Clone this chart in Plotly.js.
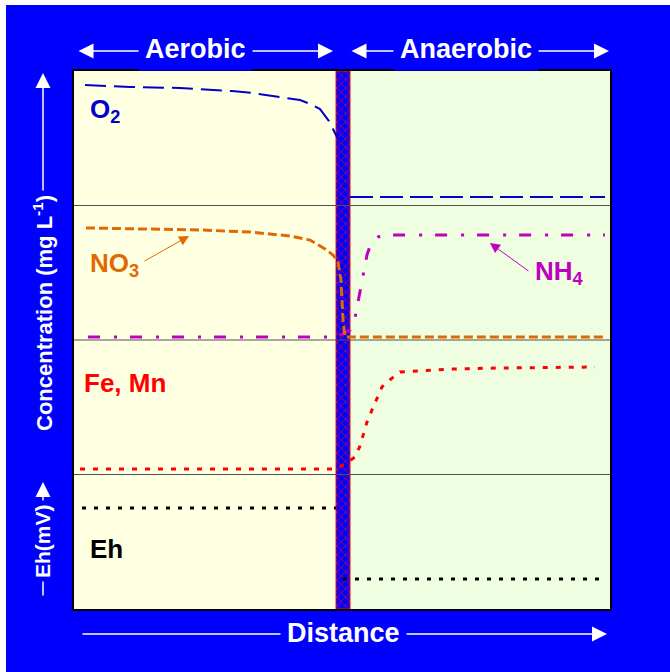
<!DOCTYPE html>
<html>
<head>
<meta charset="utf-8">
<script src="https://cdn.plot.ly/plotly-3.0.1.min.js"></script>
<style>html,body{margin:0;padding:0;background:#fff;}#chart{width:670px;height:672px;}</style>
</head>
<body>
<div id="chart"></div>
<script>
// ---- Data (distance 0-100, concentration bands 0-4) ----
const distO2Aer = [2.05, 10.45, 19.78, 29.48, 33.40, 38.81, 42.16, 44.03, 45.90, 47.57, 48.69, 49.25];
const o2Aer     = [3.896, 3.881, 3.874, 3.851, 3.836, 3.807, 3.784, 3.755, 3.717, 3.628, 3.539, 3.494];
const distO2Ana = [51.49, 99.07];
const o2Ana     = [3.063, 3.063];

const distNO3 = [2.24, 14.18, 23.51, 32.84, 40.30, 44.03, 46.83, 48.32, 49.25, 49.81, 50.0, 50.19, 50.56, 99.07];
const no3     = [2.833, 2.825, 2.818, 2.803, 2.773, 2.743, 2.677, 2.632, 2.580, 2.446, 2.297, 2.149, 2.022, 2.022];

const distNH4 = [2.61, 48.88, 49.63, 51.49, 52.43, 53.17, 53.92, 54.66, 55.41, 56.72, 58.77, 99.07];
const nh4     = [2.022, 2.022, 2.037, 2.074, 2.164, 2.320, 2.468, 2.632, 2.721, 2.766, 2.781, 2.781];

const distFe = [1.12, 48.88, 50.56, 52.43, 53.36, 54.10, 54.66, 55.60, 56.53, 57.46, 59.33, 60.82, 70.15, 79.48, 97.2];
const feMn   = [1.041, 1.041, 1.078, 1.130, 1.212, 1.309, 1.390, 1.480, 1.569, 1.651, 1.717, 1.762, 1.784, 1.792, 1.799];

const distEh = [1.49, 48.88, null, 50.19, 98.13];
const eh     = [0.751, 0.751, null, 0.223, 0.223];

const barrierX = [50.19];
const barrierTop = [4];
const barrierWidth = [2.61];

const bandBounds = [1, 2, 3];

const FONT = 'Liberation Sans, Arial, sans-serif';

const traces = [
  {type:'bar', x:barrierX, y:barrierTop, base:[0], width:barrierWidth,
   marker:{color:'#0000ff', line:{color:'#ff0000', width:1},
     pattern:{shape:'x', fgcolor:'#ff1010', bgcolor:'#0000ff', fillmode:'replace', size:6, solidity:0.18}},
   hoverinfo:'skip', showlegend:false},
  {type:'scatter', mode:'lines', x:distO2Aer, y:o2Aer, line:{color:'#0000cc', width:2, dash:'21px,8px'}, hoverinfo:'skip'},
  {type:'scatter', mode:'lines', x:distO2Ana, y:o2Ana, line:{color:'#0000cc', width:2, dash:'23px,7px'}, hoverinfo:'skip'},
  {type:'scatter', mode:'lines', x:distNH4, y:nh4, line:{color:'#c000c0', width:3, dash:'12px,14px,3px,13px'}, hoverinfo:'skip'},
  {type:'scatter', mode:'lines', x:distNO3, y:no3, line:{color:'#e06a00', width:3, dash:'9px,4px'}, hoverinfo:'skip'},
  {type:'scatter', mode:'lines', x:distFe, y:feMn, line:{color:'#ff0000', width:3, dash:'5px,8px'}, hoverinfo:'skip'},
  {type:'scatter', mode:'lines', x:distEh, y:eh, line:{color:'#000000', width:3, dash:'4px,8px'}, hoverinfo:'skip', connectgaps:false}
];

const shapes = [
  {type:'rect', xref:'x', yref:'y', x0:0, x1:50, y0:0, y1:4, fillcolor:'#ffffe2', line:{width:0}, layer:'below'},
  {type:'rect', xref:'x', yref:'y', x0:50, x1:100, y0:0, y1:4, fillcolor:'#effee0', line:{width:0}, layer:'below'},
  {type:'rect', xref:'paper', yref:'paper', x0:-0.14, x1:-0.1269, y0:-0.12, y1:1.14, fillcolor:'#ffffff', line:{width:0}, layer:'below'},
  {type:'rect', xref:'paper', yref:'paper', x0:-0.14, x1:1.12, y0:1.1227, y1:1.14, fillcolor:'#ffffff', line:{width:0}, layer:'below'}
];
bandBounds.forEach(b => shapes.push({type:'line', xref:'x', yref:'y', x0:0, x1:100, y0:b, y1:b, line:{color:'#505050', width:1}, layer:'above'}));

const W = {family:FONT, color:'#ffffff', weight:'bold'};
const arrowW = {showarrow:true, arrowcolor:'#ffffff', arrowwidth:1.5, arrowhead:2, arrowsize:2, standoff:0, startstandoff:0, text:'', xref:'paper', yref:'paper', axref:'pixel', ayref:'pixel'};
const txt = (o) => Object.assign({xref:'paper', yref:'paper', showarrow:false, xanchor:'center', yanchor:'middle', bgcolor:'#0000ff'}, o);

const annotations = [
  // header arrows
  Object.assign({}, arrowW, {x:0.4832, y:1.0372, ax:-256, ay:0, arrowside:'end+start', startarrowhead:2, startarrowsize:2}),
  Object.assign({}, arrowW, {x:0.9981, y:1.0372, ax:-259, ay:0, arrowside:'end+start', startarrowhead:2, startarrowsize:2}),
  txt({text:'Aerobic', x:0.2276, y:1.0409, borderpad:6, font:Object.assign({size:27}, W)}),
  txt({text:'Anaerobic', x:0.7313, y:1.0409, borderpad:6, font:Object.assign({size:27}, W)}),
  // bottom
  Object.assign({}, arrowW, {x:0.9944, y:-0.0465, ax:-526, ay:0}),
  txt({text:'Distance', x:0.5019, y:-0.0446, borderpad:6, font:Object.assign({size:27}, W)}),
  // left vertical
  Object.assign({}, arrowW, {x:-0.0578, y:0.2361, ax:0, ay:115}),
  Object.assign({}, arrowW, {x:-0.0578, y:0.9963, ax:0, ay:357}),
  txt({text:'Eh(mV)', x:-0.0578, y:0.1264, textangle:-90, borderpad:3, font:Object.assign({size:21}, W)}),
  txt({text:'Concentration (mg L<sup>-1</sup>)', x:-0.0578, y:0.5502, textangle:-90, borderpad:4, font:Object.assign({size:22}, W)}),
  // species labels
  {text:'O<sub>2</sub>', xref:'x', yref:'y', x:2.61, y:3.71, xanchor:'left', yanchor:'middle', showarrow:false, font:{family:FONT, size:26, color:'#0000cc', weight:'bold'}},
  {text:'NO<sub>3</sub>', xref:'x', yref:'y', x:2.6, y:2.56, xanchor:'left', yanchor:'middle', showarrow:false, font:{family:FONT, size:26, color:'#e06a00', weight:'bold'}},
  {text:'NH<sub>4</sub>', xref:'x', yref:'y', x:85.6, y:2.50, xanchor:'left', yanchor:'middle', showarrow:false, font:{family:FONT, size:26, color:'#c000c0', weight:'bold'}},
  {text:'Fe, Mn', xref:'x', yref:'y', x:1.5, y:1.68, xanchor:'left', yanchor:'middle', showarrow:false, font:{family:FONT, size:26, color:'#ff0000', weight:'bold'}},
  {text:'Eh', xref:'x', yref:'y', x:2.6, y:0.446, xanchor:'left', yanchor:'middle', showarrow:false, font:{family:FONT, size:26, color:'#000000', weight:'bold'}},
  // label pointer arrows
  {text:'', xref:'x', yref:'y', x:21.46, y:2.774, ax:-46, ay:26, axref:'pixel', ayref:'pixel', showarrow:true, arrowhead:2, arrowsize:2, arrowwidth:1, arrowcolor:'#e06a00', standoff:0},
  {text:'', xref:'x', yref:'y', x:77.6, y:2.721, ax:40, ay:29, axref:'pixel', ayref:'pixel', showarrow:true, arrowhead:2, arrowsize:2, arrowwidth:1, arrowcolor:'#c000c0', standoff:0}
];

const layout = {
  width:670, height:672,
  margin:{l:74, r:60, t:71, b:63, pad:0},
  paper_bgcolor:'#0000ff',
  plot_bgcolor:'#ffffe2',
  showlegend:false,
  bargap:0,
  xaxis:{range:[0,100], showgrid:false, zeroline:false, showticklabels:false, ticks:'', showline:true, mirror:true, linecolor:'#000000', linewidth:2, fixedrange:true},
  yaxis:{range:[0,4], showgrid:false, zeroline:false, showticklabels:false, ticks:'', showline:true, mirror:true, linecolor:'#000000', linewidth:2, fixedrange:true},
  shapes:shapes,
  annotations:annotations,
  font:{family:FONT}
};

Plotly.newPlot('chart', traces, layout, {displayModeBar:false, staticPlot:true});
</script>
</body>
</html>
